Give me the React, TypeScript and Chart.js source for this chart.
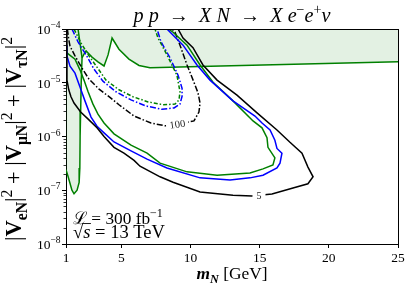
import React, { useEffect, useRef } from 'react';
import { Chart, registerables } from 'chart.js';

Chart.register(...registerables);

type P = [number, number];

const SERIF = '"Liberation Serif", "DejaVu Serif", serif';
const GREEN = '#008000';
const BLUE = '#0000ff';
const BLACK = '#000000';
const SHADE = 'rgba(0,128,0,0.11)';

const xTickValues = [1, 5, 10, 15, 20, 25];
const yTickValues = [1e-8, 1e-7, 1e-6, 1e-5, 1e-4];
const yMinorFactors = [2, 3, 4, 5, 6, 7, 8, 9];

// existing-limit region: upper shelf (from the junction with the wall to the right edge)
const shadedShelf: P[] = [
  [2.16, 2.9e-5], [2.3, 3.4e-5], [2.45, 3.9e-5], [2.88, 3.0e-5], [3.31, 2.45e-5],
  [3.75, 2.05e-5], [4.04, 3.3e-5], [4.33, 6.8e-5], [4.83, 4.2e-5], [5.55, 2.76e-5],
  [6.28, 2.1e-5], [7.07, 1.9e-5], [10.69, 2.0e-5], [25, 2.45e-5],
];
// existing-limit region: near-vertical wall at low mass (top to bottom, then back to axis)
const shadedWall: P[] = [
  [1.87, 1e-4], [2.01, 5.5e-5], [2.16, 2.9e-5], [2.1, 1e-5], [2.06, 3e-6],
  [2.02, 1e-6], [2.0, 2.6e-7], [1.95, 1.4e-7], [1.8, 1.0e-7], [1.58, 8.6e-8],
  [1.43, 1.0e-7], [1.15, 1.8e-7], [1.0, 2.4e-7],
];

const blackSolid5: P[] = [
  [1.03, 1e-4], [1.07, 2.63e-5], [1.07, 1.12e-5], [1.2, 7.4e-6], [1.36, 5.5e-6],
  [1.58, 4.2e-6], [2.06, 2.85e-6], [2.66, 2.04e-6], [3.24, 1.45e-6], [3.75, 1.0e-6],
  [4.47, 6.3e-7], [5.19, 4.9e-7], [5.92, 3.6e-7], [6.35, 2.8e-7], [7.8, 1.78e-7],
  [8.74, 1.41e-7], [10.69, 9.3e-8], [13.07, 8.1e-8], [14.45, 7.8e-8], [15.89, 8.5e-8],
  [17.41, 1.1e-7], [18.49, 1.32e-7], [18.86, 1.78e-7], [18.49, 2.7e-7], [18.06, 4.9e-7],
  [17.19, 7.8e-7], [16.25, 1.32e-6], [14.81, 2.75e-6], [13.36, 5.9e-6], [11.92, 1.12e-5],
  [10.9, 2.14e-5], [10.18, 4.5e-5], [9.46, 6.8e-5], [9.1, 1e-4],
];

const blueSolid5: P[] = [
  [1.0, 5.0e-5], [1.07, 3.16e-5], [1.29, 2.04e-5], [1.65, 1.51e-5], [2.01, 8.3e-6],
  [2.37, 4.6e-6], [2.81, 2.3e-6], [3.24, 1.55e-6], [3.75, 1.17e-6], [4.47, 7.9e-7],
  [5.7, 5.4e-7], [6.86, 3.8e-7], [8.3, 2.6e-7], [10.69, 1.7e-7], [12.86, 1.55e-7],
  [14.3, 1.7e-7], [15.24, 1.9e-7], [16.25, 2.6e-7], [16.47, 3.2e-7], [16.61, 4.9e-7],
  [16.25, 6.0e-7], [16.1, 8.5e-7], [15.75, 1.32e-6], [15.17, 1.78e-6], [14.66, 2.4e-6],
  [13.07, 4.6e-6], [11.41, 1.12e-5], [10.47, 2.14e-5], [9.46, 5.0e-5], [8.3, 1e-4],
];

const greenSolid5: P[] = [
  [1.0, 4.5e-5], [1.0, 3.7e-5], [1.65, 2.75e-5], [2.01, 1.74e-5], [2.3, 1.12e-5],
  [2.59, 6.9e-6], [2.95, 4.0e-6], [3.31, 2.6e-6], [3.75, 1.78e-6], [4.47, 1.12e-6],
  [5.7, 6.9e-7], [6.86, 4.9e-7], [7.8, 3.2e-7], [9.75, 2.2e-7], [11.92, 1.9e-7],
  [14.3, 2.1e-7], [15.24, 2.5e-7], [15.96, 2.95e-7], [16.1, 4.0e-7], [15.6, 6.3e-7],
  [15.53, 9.5e-7], [15.17, 1.45e-6], [14.52, 1.95e-6], [13.07, 4.6e-6], [11.63, 1.02e-5],
  [10.69, 2.14e-5], [9.75, 5.0e-5], [8.74, 8.7e-5], [8.4, 1e-4],
];

const blackDashDot100: P[] = [
  [1.1, 1e-4], [1.18, 6.8e-5], [1.29, 4.8e-5], [1.65, 3.16e-5], [2.16, 1.86e-5],
  [2.66, 1.17e-5], [3.39, 7.6e-6], [4.11, 5.5e-6], [4.83, 3.9e-6], [5.92, 2.4e-6],
  [7.14, 1.78e-6], [8.16, 1.58e-6], [9.1, 1.7e-6], [10.25, 1.95e-6], [10.61, 2.85e-6],
  [10.69, 4.2e-6], [10.54, 6.5e-6], [10.25, 1.02e-5], [9.75, 2.14e-5], [9.24, 5.0e-5],
  [8.88, 8.7e-5], [8.66, 1e-4],
];

const blueDashDot100: P[] = [
  [1.43, 1e-4], [1.87, 5.75e-5], [2.45, 3.3e-5], [3.02, 1.8e-5], [3.67, 1.07e-5],
  [4.61, 6.8e-6], [5.7, 4.8e-6], [6.78, 3.7e-6], [7.94, 3.2e-6], [8.81, 3.4e-6],
  [9.24, 4.0e-6], [9.39, 5.6e-6], [9.39, 7.9e-6], [9.1, 1.38e-5], [8.52, 2.9e-5],
  [7.87, 5.75e-5], [7.58, 1e-4],
];

const greenDashDot100: P[] = [
  [1.58, 1e-4], [2.08, 5.5e-5], [2.66, 3.16e-5], [3.24, 1.95e-5], [3.89, 1.12e-5],
  [4.83, 7.4e-6], [5.84, 5.5e-6], [6.93, 4.4e-6], [8.01, 3.9e-6], [8.88, 4.0e-6],
  [9.17, 4.8e-6], [9.24, 6.8e-6], [9.02, 1.38e-5], [8.3, 3.3e-5], [7.65, 6.8e-5],
  [7.43, 1e-4],
];

const label5: P = [14.95, 7.9e-8];
const label100: P = [9.05, 1.68e-6];

type Seg = { t: string; st?: string; s?: number; dy?: number; over?: boolean };

function segFont(seg: Seg, base: number) {
  return `${seg.st ?? 'normal'} ${(seg.s ?? 1) * base}px ${SERIF}`;
}
function measureSegs(ctx: CanvasRenderingContext2D, segs: Seg[], base: number) {
  let w = 0;
  for (const s of segs) {
    ctx.font = segFont(s, base);
    w += ctx.measureText(s.t).width;
  }
  return w;
}
function fitBase(ctx: CanvasRenderingContext2D, segs: Seg[], target: number, guess = 16) {
  return (guess * target) / measureSegs(ctx, segs, guess);
}
function drawSegs(ctx: CanvasRenderingContext2D, segs: Seg[], base: number, x: number, y: number) {
  let cx = x;
  ctx.textAlign = 'left';
  ctx.textBaseline = 'alphabetic';
  for (const s of segs) {
    ctx.font = segFont(s, base);
    const w = ctx.measureText(s.t).width;
    ctx.fillText(s.t, cx, y + (s.dy ?? 0) * base);
    if (s.over) {
      ctx.beginPath();
      ctx.lineWidth = 0.9;
      ctx.moveTo(cx - 1, y - 0.78 * base);
      ctx.lineTo(cx + w + 0.5, y - 0.78 * base);
      ctx.stroke();
    }
    cx += w;
  }
}

const titleSegs: Seg[] = [
  { t: 'p p', st: 'italic' }, { t: '\u2002→\u2002' }, { t: 'X N', st: 'italic' }, { t: '\u2002→\u2002' },
  { t: 'X e', st: 'italic' }, { t: '−', s: 0.7, dy: -0.38 }, { t: 'e', st: 'italic' },
  { t: '+', s: 0.7, dy: -0.38 }, { t: 'ν', st: 'italic' },
];
const ylabelSegs: Seg[] = [
  { t: '|' }, { t: 'V', st: 'bold' }, { t: 'eN', st: 'bold', s: 0.7, dy: 0.25 }, { t: '|' },
  { t: '2', s: 0.7, dy: -0.42 }, { t: ' + ' },
  { t: '|' }, { t: 'V', st: 'bold' }, { t: 'μN', st: 'bold', s: 0.7, dy: 0.25 }, { t: '|' },
  { t: '2', s: 0.7, dy: -0.42 }, { t: ' + ' },
  { t: '|' }, { t: 'V', st: 'bold' }, { t: 'τN', st: 'bold', s: 0.7, dy: 0.25 }, { t: '|' },
  { t: '2', s: 0.7, dy: -0.42 },
];
const xlabelSegs: Seg[] = [
  { t: 'm', st: 'italic bold' }, { t: 'N', st: 'italic bold', s: 0.7, dy: 0.25 }, { t: ' [GeV]' },
];
const lumiSegs: Seg[] = [{ t: 'ℒ' }, { t: ' = 300 fb' }, { t: '−1', s: 0.7, dy: -0.42 }];
const energySegs: Seg[] = [{ t: '√' }, { t: 's', st: 'italic', over: true }, { t: ' = 13 TeV' }];

export default function App() {
  const ref = useRef<HTMLCanvasElement>(null);

  useEffect(() => {
    document.body.style.margin = '0';
    const canvas = ref.current;
    if (!canvas) return;
    const toXY = (a: P[]) => a.map(([x, y]) => ({ x, y }));
    const polygon: P[] = [
      [1, 1e-4], [25, 1e-4], ...shadedShelf.slice().reverse(), ...shadedWall.slice(3), [1, 1e-4],
    ];
    const line = (data: P[], color: string, dash: number[], order = 1) => ({
      data: toXY(data), borderColor: color, backgroundColor: color, borderWidth: 1.5,
      borderDash: dash, pointRadius: 0, showLine: true, fill: false, tension: 0, order,
    });

    const decor = {
      id: 'decor',
      afterDraw(chart: any) {
        const ctx: CanvasRenderingContext2D = chart.ctx;
        const { left, right, top, bottom } = chart.chartArea;
        const xs = chart.scales.x;
        const ys = chart.scales.y;
        ctx.save();
        ctx.strokeStyle = BLACK;
        ctx.fillStyle = BLACK;
        // top and right spines
        ctx.lineWidth = 1;
        ctx.beginPath();
        ctx.moveTo(Math.round(left), Math.round(top) + 0.5);
        ctx.lineTo(Math.round(right) + 1, Math.round(top) + 0.5);
        ctx.moveTo(Math.round(right) + 0.5, Math.round(top));
        ctx.lineTo(Math.round(right) + 0.5, Math.round(bottom) + 1);
        ctx.stroke();
        // minor log ticks
        ctx.lineWidth = 0.8;
        ctx.beginPath();
        for (let i = 0; i < yTickValues.length - 1; i++) {
          for (const f of yMinorFactors) {
            const py = Math.round(ys.getPixelForValue(yTickValues[i] * f)) + 0.5;
            ctx.moveTo(left - 2.5, py);
            ctx.lineTo(left, py);
          }
        }
        ctx.stroke();
        // y tick labels 10^n
        for (const v of yTickValues) {
          const py = ys.getPixelForValue(v);
          const n = Math.round(Math.log10(v));
          const sup = '−' + Math.abs(n);
          ctx.font = `9.5px ${SERIF}`;
          const ws = ctx.measureText(sup).width;
          ctx.textAlign = 'right';
          ctx.textBaseline = 'alphabetic';
          ctx.fillText(sup, left - 5.5, py - 1);
          ctx.font = `13.5px ${SERIF}`;
          ctx.fillText('10', left - 5.5 - ws, py + 4.8);
        }
        // title
        const tb = fitBase(ctx, titleSegs, 197);
        const tw = measureSegs(ctx, titleSegs, tb);
        drawSegs(ctx, titleSegs, tb, 232 - tw / 2, 22);
        // x label
        const xb = fitBase(ctx, xlabelSegs, 71);
        const xw = measureSegs(ctx, xlabelSegs, xb);
        drawSegs(ctx, xlabelSegs, xb, 232 - xw / 2, 279);
        // y label
        const yb = fitBase(ctx, ylabelSegs, 204);
        const yw = measureSegs(ctx, ylabelSegs, yb);
        ctx.save();
        ctx.translate(21, 139);
        ctx.rotate(-Math.PI / 2);
        drawSegs(ctx, ylabelSegs, yb, -yw / 2, 0);
        ctx.restore();
        // annotations
        const lb = fitBase(ctx, lumiSegs, 90);
        drawSegs(ctx, lumiSegs, lb, 73, 224);
        const eb = fitBase(ctx, energySegs, 92);
        drawSegs(ctx, energySegs, eb, 73, 238);
        // contour labels
        const drawLabel = (pos: P, text: string, size: number, rot: number, bw: number, bh: number) => {
          const px = xs.getPixelForValue(pos[0]);
          const py = ys.getPixelForValue(pos[1]);
          ctx.save();
          ctx.translate(px, py);
          ctx.rotate(rot);
          ctx.fillStyle = '#ffffff';
          ctx.fillRect(-bw / 2, -bh / 2, bw, bh);
          ctx.fillStyle = '#222';
          ctx.font = `${size}px ${SERIF}`;
          ctx.textAlign = 'center';
          ctx.textBaseline = 'middle';
          ctx.fillText(text, 0, 0.5);
          ctx.restore();
        };
        drawLabel(label5, '5', 10, 0, 13, 8);
        drawLabel(label100, '100', 10.5, -0.14, 22, 8);
        ctx.restore();
      },
    };

    const axisCommon = {
      grid: { display: true, drawOnChartArea: false, drawTicks: true, tickLength: 4, color: BLACK, lineWidth: 1 },
      border: { display: true, color: BLACK, width: 1 },
    };

    const chart = new Chart(canvas, {
      type: 'scatter',
      data: {
        datasets: [
          line(blackSolid5, BLACK, []),
          line(blueSolid5, BLUE, []),
          line(greenSolid5, GREEN, []),
          line(blackDashDot100, BLACK, [6, 2, 1.5, 2]),
          line(greenDashDot100, GREEN, [4, 2, 1.5, 2]),
          line(blueDashDot100, BLUE, [6, 2, 1.5, 2]),
          line(shadedShelf, GREEN, [], 2),
          line(shadedWall, GREEN, [], 2),
          {
            data: toXY(polygon), borderWidth: 0, borderColor: 'rgba(0,0,0,0)',
            backgroundColor: SHADE, fill: 'shape', showLine: true, pointRadius: 0, tension: 0, order: 3,
          } as any,
        ],
      },
      options: {
        responsive: false,
        animation: false,
        devicePixelRatio: 1,
        events: [],
        layout: { padding: { top: 29, right: 15, left: 0, bottom: 0 } },
        plugins: { legend: { display: false }, tooltip: { enabled: false }, title: { display: false } },
        scales: {
          x: {
            type: 'linear', min: 1, max: 25,
            afterBuildTicks: (s: any) => { s.ticks = xTickValues.map((v) => ({ value: v })); },
            afterFit: (s: any) => { s.height = 50; },
            ticks: {
              font: { family: SERIF, size: 13.5 }, color: BLACK, padding: 2,
              maxRotation: 0, autoSkip: false, callback: (v: any) => String(v),
            },
            ...axisCommon,
          },
          y: {
            type: 'logarithmic', min: 1e-8, max: 1e-4,
            afterBuildTicks: (s: any) => { s.ticks = yTickValues.map((v) => ({ value: v })); },
            afterFit: (s: any) => { s.width = 66; },
            ticks: { callback: () => '', font: { family: SERIF, size: 13.5 } },
            ...axisCommon,
          },
        },
      } as any,
      plugins: [decor],
    });
    return () => chart.destroy();
  }, []);

  return (
    <div style={{ width: 413, height: 294 }}>
      <canvas ref={ref} width={413} height={294} style={{ display: 'block', width: 413, height: 294 }} />
    </div>
  );
}
